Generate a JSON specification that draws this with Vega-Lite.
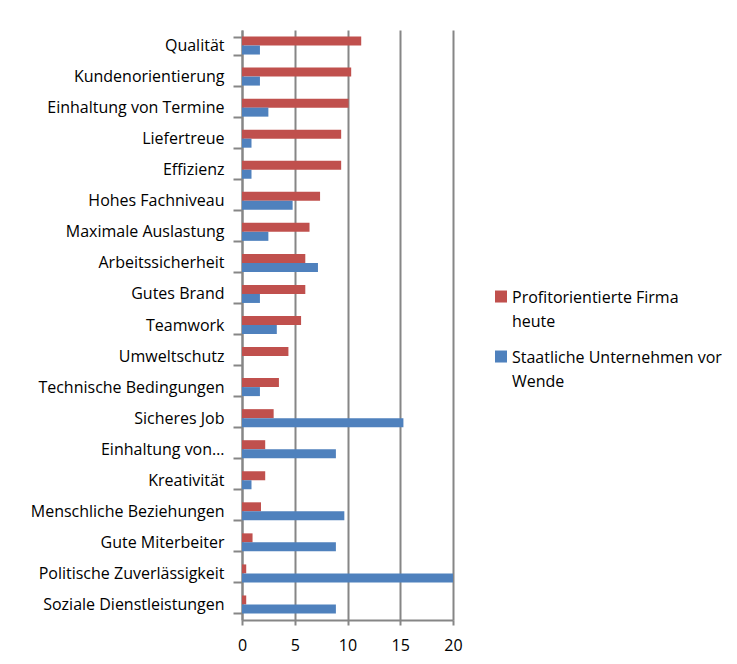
{
  "$schema": "https://vega.github.io/schema/vega-lite/v6.json",
  "width": 211,
  "height": 590,
  "padding": {"left": 30, "top": 22, "right": 0, "bottom": 8},
  "autosize": {"type": "pad"},
  "background": "white",
  "config": {
    "view": {"stroke": null},
    "font": "Open Sans",
    "style": {"guide-label": {"lineHeight": 23.5}}
  },
  "data": {
    "values": [
      {"category": "Qualität", "series": "Profitorientierte Firma heute", "value": 11.3},
      {"category": "Qualität", "series": "Staatliche Unternehmen vor Wende", "value": 1.7},
      {"category": "Kundenorientierung", "series": "Profitorientierte Firma heute", "value": 10.35},
      {"category": "Kundenorientierung", "series": "Staatliche Unternehmen vor Wende", "value": 1.7},
      {"category": "Einhaltung von Termine", "series": "Profitorientierte Firma heute", "value": 10.1},
      {"category": "Einhaltung von Termine", "series": "Staatliche Unternehmen vor Wende", "value": 2.5},
      {"category": "Liefertreue", "series": "Profitorientierte Firma heute", "value": 9.4},
      {"category": "Liefertreue", "series": "Staatliche Unternehmen vor Wende", "value": 0.9},
      {"category": "Effizienz", "series": "Profitorientierte Firma heute", "value": 9.4},
      {"category": "Effizienz", "series": "Staatliche Unternehmen vor Wende", "value": 0.9},
      {"category": "Hohes Fachniveau", "series": "Profitorientierte Firma heute", "value": 7.4},
      {"category": "Hohes Fachniveau", "series": "Staatliche Unternehmen vor Wende", "value": 4.8},
      {"category": "Maximale Auslastung", "series": "Profitorientierte Firma heute", "value": 6.4},
      {"category": "Maximale Auslastung", "series": "Staatliche Unternehmen vor Wende", "value": 2.5},
      {"category": "Arbeitssicherheit", "series": "Profitorientierte Firma heute", "value": 6.0},
      {"category": "Arbeitssicherheit", "series": "Staatliche Unternehmen vor Wende", "value": 7.2},
      {"category": "Gutes Brand", "series": "Profitorientierte Firma heute", "value": 6.0},
      {"category": "Gutes Brand", "series": "Staatliche Unternehmen vor Wende", "value": 1.7},
      {"category": "Teamwork", "series": "Profitorientierte Firma heute", "value": 5.6},
      {"category": "Teamwork", "series": "Staatliche Unternehmen vor Wende", "value": 3.3},
      {"category": "Umweltschutz", "series": "Profitorientierte Firma heute", "value": 4.4},
      {"category": "Umweltschutz", "series": "Staatliche Unternehmen vor Wende", "value": 0},
      {"category": "Technische Bedingungen", "series": "Profitorientierte Firma heute", "value": 3.5},
      {"category": "Technische Bedingungen", "series": "Staatliche Unternehmen vor Wende", "value": 1.7},
      {"category": "Sicheres Job", "series": "Profitorientierte Firma heute", "value": 3.0},
      {"category": "Sicheres Job", "series": "Staatliche Unternehmen vor Wende", "value": 15.3},
      {"category": "Einhaltung von…", "series": "Profitorientierte Firma heute", "value": 2.2},
      {"category": "Einhaltung von…", "series": "Staatliche Unternehmen vor Wende", "value": 8.9},
      {"category": "Kreativität", "series": "Profitorientierte Firma heute", "value": 2.2},
      {"category": "Kreativität", "series": "Staatliche Unternehmen vor Wende", "value": 0.9},
      {"category": "Menschliche Beziehungen", "series": "Profitorientierte Firma heute", "value": 1.8},
      {"category": "Menschliche Beziehungen", "series": "Staatliche Unternehmen vor Wende", "value": 9.7},
      {"category": "Gute Miterbeiter", "series": "Profitorientierte Firma heute", "value": 1.0},
      {"category": "Gute Miterbeiter", "series": "Staatliche Unternehmen vor Wende", "value": 8.9},
      {"category": "Politische Zuverlässigkeit", "series": "Profitorientierte Firma heute", "value": 0.4},
      {"category": "Politische Zuverlässigkeit", "series": "Staatliche Unternehmen vor Wende", "value": 20},
      {"category": "Soziale Dienstleistungen", "series": "Profitorientierte Firma heute", "value": 0.4},
      {"category": "Soziale Dienstleistungen", "series": "Staatliche Unternehmen vor Wende", "value": 8.9}
    ]
  },
  "mark": {"type": "bar"},
  "encoding": {
    "y": {
      "field": "category",
      "type": "nominal",
      "sort": null,
      "title": null,
      "scale": {"paddingInner": 0.42, "paddingOuter": 0.21},
      "axis": {
        "tickBand": "extent",
        "domainColor": "#868686",
        "domainWidth": 2,
        "tickColor": "#868686",
        "tickWidth": 2,
        "tickSize": 9,
        "labelFontSize": 16,
        "labelColor": "#000000",
        "labelPadding": 9,
        "labelLimit": 300,
        "labelLineHeight": 16
      }
    },
    "yOffset": {
      "field": "series",
      "type": "nominal",
      "sort": ["Profitorientierte Firma heute", "Staatliche Unternehmen vor Wende"]
    },
    "x": {
      "field": "value",
      "type": "quantitative",
      "title": null,
      "scale": {"domain": [0, 20], "nice": false},
      "axis": {
        "values": [0, 5, 10, 15, 20],
        "domain": true,
        "domainColor": "#868686",
        "domainWidth": 2,
        "ticks": true,
        "tickColor": "#868686",
        "tickWidth": 2,
        "tickSize": 5,
        "grid": true,
        "gridColor": "#868686",
        "gridWidth": 2,
        "labelFontSize": 16,
        "labelColor": "#000000",
        "labelPadding": 12,
        "labelFlush": false,
        "labelLineHeight": 16
      }
    },
    "color": {
      "field": "series",
      "type": "nominal",
      "sort": ["Profitorientierte Firma heute", "Staatliche Unternehmen vor Wende"],
      "scale": {"range": ["#C0504D", "#4F81BD"]},
      "legend": {
        "title": null,
        "orient": "none",
        "legendX": 251,
        "legendY": 265,
        "symbolType": "M-1,-2.08H1V-0.08H-1Z",
        "symbolSize": 144,
        "symbolStrokeWidth": 0,
        "labelFontSize": 16,
        "labelColor": "#000000",
        "labelLimit": 300,
        "rowPadding": 20,
        "labelBaseline": "alphabetic",
        "labelOffset": 3,
        "labelExpr": "datum.label == 'Profitorientierte Firma heute' ? ['Profitorientierte Firma', 'heute'] : ['Staatliche Unternehmen vor', 'Wende']"
      }
    }
  }
}
